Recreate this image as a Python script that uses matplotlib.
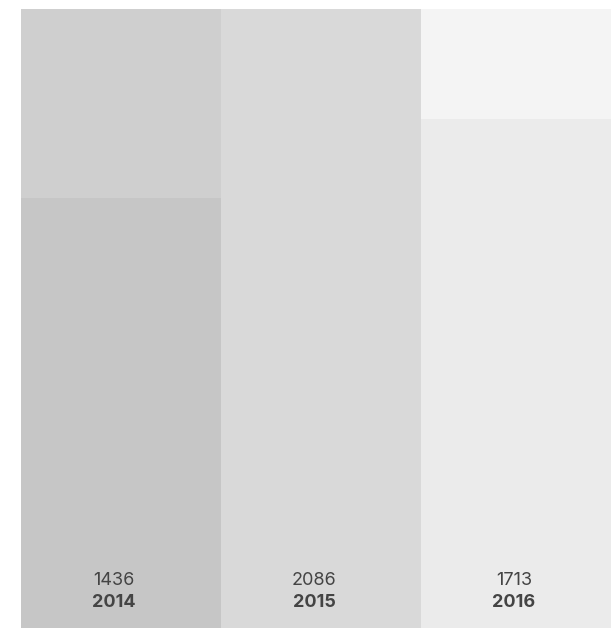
import matplotlib.pyplot as plt

# Data
years = ["2014", "2015", "2016"]
values = [1436, 2086, 1713]

# Colours per column: background and value bar
bg_colors = ["#cfcfcf", "#d9d9d9", "#f4f4f4"]
bar_colors = ["#c6c6c6", "#d9d9d9", "#ebebeb"]
text_color = "#444444"

plt.rcParams['font.family'] = ['Inter', 'DejaVu Sans']

fig = plt.figure(figsize=(6.11, 6.28), dpi=100)
ax = fig.add_axes([21 / 611, 0, 590 / 611, 619 / 628])

y_min, y_max = -72, 2099
x = list(range(len(years)))

# Full-height background columns, then value bars on top
ax.bar(x, [y_max - y_min] * len(x), bottom=y_min, width=1.0, color=bg_colors, linewidth=0)
ax.bar(x, [v - y_min for v in values], bottom=y_min, width=1.0, color=bar_colors, linewidth=0)

# Labels at the bottom of each column
trans = ax.get_xaxis_transform()
for i in x:
    ax.text(i - 0.035, 0.0775, str(values[i]), transform=trans, ha="center", va="center",
            fontsize=13, color=text_color)
    ax.text(i - 0.035, 0.042, years[i], transform=trans, ha="center", va="center",
            fontsize=13, fontweight="bold", color=text_color)

ax.set_xlim(-0.5, 2.45)
ax.set_ylim(y_min, y_max)
ax.axis("off")

fig.savefig("out.png", dpi=100)
